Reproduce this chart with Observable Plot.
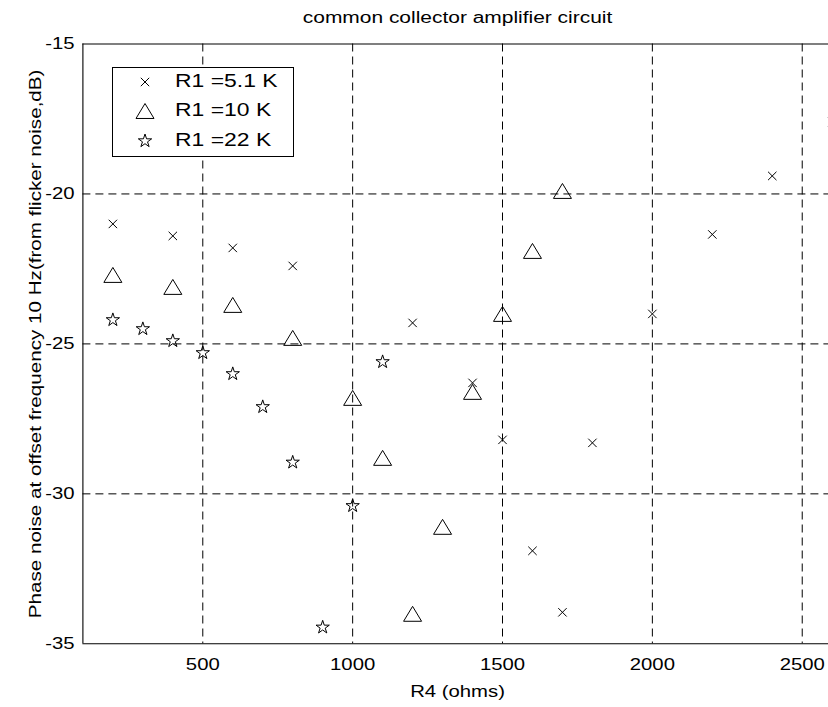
<!DOCTYPE html>
<html>
<head>
<meta charset="utf-8">
<script src="https://cdn.jsdelivr.net/npm/d3@7"></script>
<script src="https://cdn.jsdelivr.net/npm/@observablehq/plot@0.6"></script>
<style>
  html, body { margin: 0; padding: 0; background: #fff; overflow: hidden; }
  #wrap { position: relative; width: 828px; height: 707px; overflow: hidden; }
  #chart svg { max-width: none !important; height: 707px !important; }
  #legend {
    position: absolute; left: 111.7px; top: 66.7px; width: 182.6px; height: 90px;
    box-sizing: border-box; border: 1px solid #000; background: #fff;
    font-family: "Liberation Sans", Arial, Helvetica, sans-serif; font-size: 17.5px; color: #000;
  }
  #legend .mk { position: absolute; width: 24px; height: 24px; overflow: visible; }
  #legend .lb {
    position: absolute; line-height: 1; white-space: pre;
    transform: translateY(-50%) scaleX(1.31); transform-origin: left center;
  }
</style>
</head>
<body>
<div id="wrap"><div id="chart"></div><div id="legend"></div></div>
<script>
// R4 sweep and measured phase noise (dB) at a 10 Hz offset, one pair of arrays per R1 value
const r4_5k1 = [200, 400, 600, 800, 1200, 1400, 1500, 1600, 1700, 1800, 2000, 2200, 2400, 2600];
const pn_5k1 = [-21.0, -21.4, -21.8, -22.4, -24.3, -26.3, -28.2, -31.9, -33.95, -28.3, -24.0, -21.35, -19.4, -17.6];

const r4_10k = [200, 400, 600, 800, 1000, 1100, 1200, 1300, 1400, 1500, 1600, 1700];
const pn_10k = [-22.7, -23.1, -23.7, -24.8, -26.8, -28.8, -34.0, -31.1, -26.6, -24.0, -21.9, -19.9];

const r4_22k = [200, 300, 400, 500, 600, 700, 800, 900, 1000, 1100];
const pn_22k = [-24.2, -24.5, -24.9, -25.3, -26.0, -27.1, -28.95, -34.45, -30.4, -25.6];

const seriesLabels = ["R1 =5.1 K", "R1 =10 K", "R1 =22 K"];
const xDomain = [100, 2600];
const yDomain = [-35, -15];
const xTicks = [500, 1000, 1500, 2000, 2500];
const yTicks = [-15, -20, -25, -30, -35];
const titleText = "common collector amplifier circuit";
const xLabel = "R4 (ohms)";
const yLabel = "Phase noise at offset frequency 10 Hz(from flicker noise,dB)";

const toRows = (xs, ys) => xs.map((x, i) => ({x, y: ys[i]}));

// Outline marker shapes: x-mark, upward triangle, five-point star
const crossSymbol = {
  draw(ctx, size) {
    const h = Math.sqrt(size / Math.PI);
    ctx.moveTo(-h, -h); ctx.lineTo(h, h);
    ctx.moveTo(h, -h); ctx.lineTo(-h, h);
  }
};
const triangleSymbol = {
  draw(ctx, size) {
    const h = Math.sqrt(size / Math.PI), v = h * 0.83;
    ctx.moveTo(0, -v); ctx.lineTo(h, v); ctx.lineTo(-h, v); ctx.closePath();
  }
};
const starSymbol = {
  draw(ctx, size) {
    const R = Math.sqrt(size / Math.PI), r = R * 0.382;
    for (let k = 0; k < 10; k++) {
      const a = -Math.PI / 2 + k * Math.PI / 5, rr = k % 2 ? r : R;
      const px = rr * Math.cos(a), py = rr * Math.sin(a);
      if (k) ctx.lineTo(px, py); else ctx.moveTo(px, py);
    }
    ctx.closePath();
  }
};
const series = [
  {rows: toRows(r4_5k1, pn_5k1), symbol: crossSymbol, r: 4.2},
  {rows: toRows(r4_10k, pn_10k), symbol: triangleSymbol, r: 9},
  {rows: toRows(r4_22k, pn_22k), symbol: starSymbol, r: 7}
];

const font = "'Liberation Sans', Arial, Helvetica, sans-serif";
const grid = {stroke: "#000", strokeWidth: 1, strokeDasharray: "8,5"};
const axisLine = {stroke: "#000", strokeWidth: 1.1};

const chart = Plot.plot({
  width: 842,
  height: 707,
  marginLeft: 82.4,
  marginRight: 10.3,
  marginTop: 43.5,
  marginBottom: 63.7,
  style: {fontFamily: font, fontSize: "16px", color: "#000", background: "#fff", overflow: "visible"},
  x: {domain: xDomain},
  y: {domain: yDomain},
  marks: [
    Plot.ruleX(xTicks, grid),
    Plot.ruleY(yTicks.filter(d => !yDomain.includes(d)), grid),
    // box edges: left, bottom and top (the right edge lies beyond the page)
    Plot.ruleX([xDomain[0]], axisLine),
    Plot.ruleY(yDomain, axisLine),
    Plot.axisX(xTicks, {tickSize: 0, tickPadding: 14.4, label: null, tickFormat: d => String(d)}),
    Plot.axisY(yTicks, {tickSize: 0, tickPadding: 8.4, label: null, tickFormat: d => String(d)}),
    ...series.map(s => Plot.dot(s.rows, {
      x: "x", y: "y", symbol: s.symbol, r: s.r,
      fill: "none", stroke: "#000", strokeWidth: 1
    })),
    Plot.text([titleText], {text: d => d, frameAnchor: "top", textAnchor: "middle", lineAnchor: "middle", dy: -26.6, fontSize: 16}),
    Plot.text([xLabel], {text: d => d, frameAnchor: "bottom", textAnchor: "middle", lineAnchor: "middle", dy: 47.6, fontSize: 16}),
    Plot.text([yLabel], {text: d => d, frameAnchor: "left", textAnchor: "middle", lineAnchor: "middle", dx: -47.5, rotate: -90, fontSize: 16})
  ]
});
chart.style.maxWidth = "none";
chart.style.height = "707px";

// Wide, Helvetica-style lettering: stretch each label along its own baseline
const num = /^[-\d.]+$/;
chart.querySelectorAll("text").forEach(t => {
  const txt = t.textContent;
  const sx = txt === titleText ? 1.31 : txt === yLabel ? 1.29 : 1.27;
  let tr = t.getAttribute("transform") || "";
  const x = t.getAttribute("x"), y = t.getAttribute("y");
  if (x !== null && num.test(x)) {
    const yy = (y !== null && num.test(y)) ? +y : 0;
    tr = `${tr} translate(${+x},${yy})`;
    t.removeAttribute("x");
    if (y !== null && num.test(y)) t.removeAttribute("y");
  }
  t.setAttribute("transform", `${tr} scale(${sx},1)`.trim());
});

document.getElementById("chart").appendChild(chart);

// Legend box with one marker and label per R1 value
const legend = document.getElementById("legend");
const rowY = [14.3, 43.8, 73.3];
series.forEach((s, i) => {
  const path = d3.path();
  s.symbol.draw(path, Math.PI * s.r * s.r);
  const mk = document.createElementNS("http://www.w3.org/2000/svg", "svg");
  mk.setAttribute("class", "mk");
  mk.setAttribute("viewBox", "-12 -12 24 24");
  mk.style.left = (145 - 112.7 - 12) + "px";
  mk.style.top = (rowY[i] - 12) + "px";
  const p = document.createElementNS("http://www.w3.org/2000/svg", "path");
  p.setAttribute("d", path.toString());
  p.setAttribute("fill", "none");
  p.setAttribute("stroke", "#000");
  p.setAttribute("stroke-width", "1");
  mk.appendChild(p);
  legend.appendChild(mk);
  const lb = document.createElement("div");
  lb.className = "lb";
  lb.textContent = seriesLabels[i];
  lb.style.left = (175.5 - 112.7) + "px";
  lb.style.top = rowY[i] + "px";
  legend.appendChild(lb);
});
</script>
</body>
</html>
